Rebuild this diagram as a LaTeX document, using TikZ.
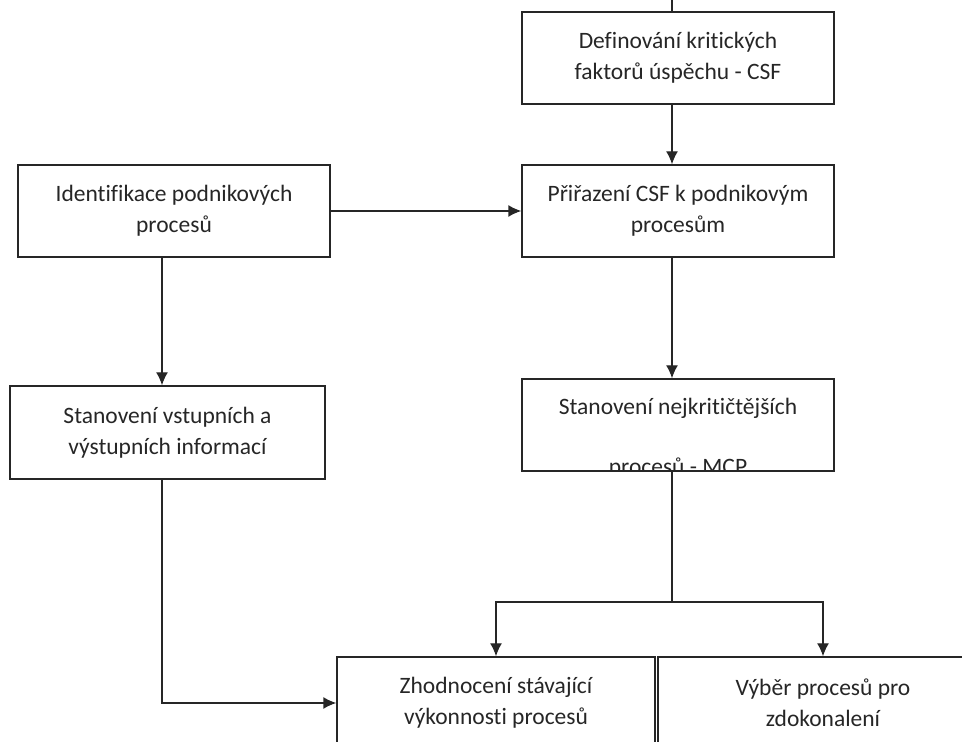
\documentclass[tikz,border=0pt]{standalone}
\usepackage{fontspec}
\setmainfont{Carlito}[Ligatures=NoCommon]
\usetikzlibrary{arrows.meta}

\begin{document}
\begin{tikzpicture}[x=1pt, y=1pt, >={Latex[length=13pt,width=12pt]}, line width=1.4pt, black!85]
        % Styly
        \tikzstyle{block} = [draw, rectangle, minimum width=312pt, minimum height=92pt, inner sep=0pt, align=center, font=\fontsize{23.5}{31}\selectfont]
        \tikzstyle{txt} = [inner sep=0pt, align=center, font=\fontsize{23.5}{60}\selectfont]
        \tikzstyle{input} = [coordinate]

        \useasboundingbox (0,0) rectangle (962,742);
        \clip (0,0) rectangle (962,742);

        % Uzly
        \node [block] (csf) at (678,684) {Definování kritických\\faktorů úspěchu - CSF};
        \node [block] (ident) at (174,531) {Identifikace podnikových\\procesů};
        \node [block] (pri) at (678,531) {Přiřazení CSF k podnikovým\\procesům};
        \node [block, minimum width=315pt, minimum height=93pt] (vstup) at (167.5,309.5) {Stanovení vstupních a\\výstupních informací};
        \node [block] (mcp) at (678,317) {};
        \node [block, minimum width=318pt] (zhod) at (496,39) {Zhodnocení stávající\\výkonnosti procesů};
        \node [block, minimum width=330pt] (vyber) at (823,39) {Výběr procesů pro\\zdokonalení};

        % text MCP je dole oriznuty
        \begin{scope}
            \clip (mcp.south west) rectangle (mcp.north east);
            \node [txt] (mcptxt) at ([yshift=-13pt]mcp.center) {Stanovení nejkritičtějších\\procesů - MCP};
        \end{scope}

        % Pomocne body
        \node [input] (top) at (672,742) {};
        \node [input] (spine) at (672,0) {};
        \node [input] (lspine) at (162,0) {};
        \node [input] (split) at (672,140) {};

        % Spojnice
        \draw (top) -- (csf.north -| top);
        \draw [->] (csf.south -| spine) -- (pri.north -| spine);
        \draw [->] (ident) -- (pri);
        \draw [->] (pri.south -| spine) -- (mcp.north -| spine);
        \draw [->] (ident.south -| lspine) -- (vstup.north -| lspine);
        \draw [->] (vstup.south -| lspine) |- (zhod.west);
        \draw (mcp.south -| spine) -- (split);
        \draw [->] (split) -| (zhod.north);
        \draw [->] (split) -| (vyber.north);

    \end{tikzpicture}
\end{document}
